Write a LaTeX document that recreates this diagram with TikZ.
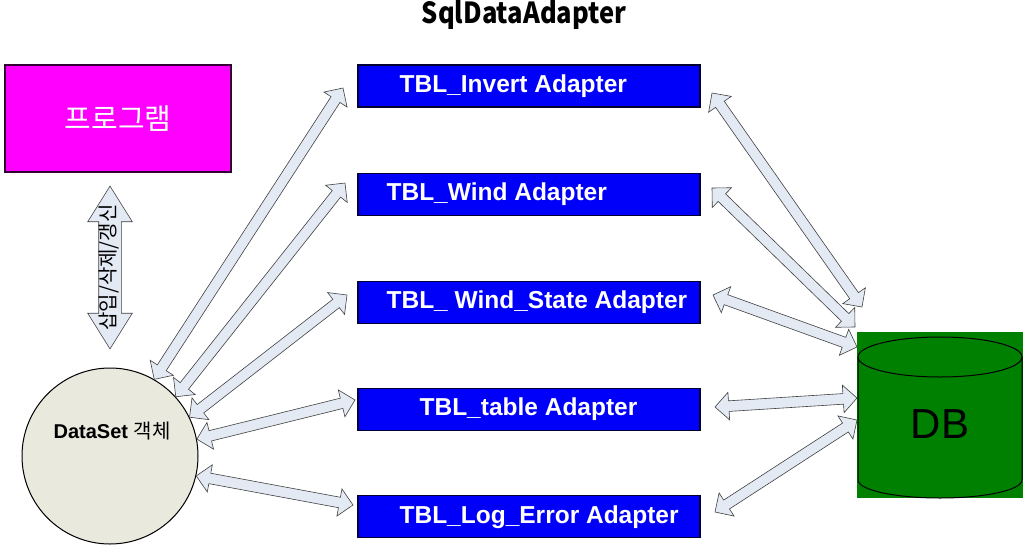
\documentclass[tikz,border=0pt]{standalone}
\usepackage{xcolor}
\usepackage{fontspec}
\setmainfont{Liberation Sans}
\newfontfamily\kr{Noto Sans CJK KR}
\usepackage{tikz}
\usetikzlibrary{positioning}
\usetikzlibrary{calc,shapes.arrows}

\definecolor{pgpink}{RGB}{255,0,255}
\definecolor{adblue}{RGB}{0,0,250}
\definecolor{dbgreen}{RGB}{0,128,0}
\definecolor{dsbeige}{RGB}{234,233,222}
\definecolor{arrfill}{RGB}{228,234,244}

\newcommand{\blockarrow}[2]{%
	\path let \p1=($(#2)-(#1)$), \n1={atan2(\y1,\x1)}, \n2={veclen(\x1,\y1)} in
		node[dblarrow, minimum height=\n2, rotate=\n1] at ($(#1)!0.5!(#2)$) {};}

\begin{document}
\begin{tikzpicture}[x=1pt,y=-1pt,
		adbox/.style={draw=black!80!blue, line width=1.2pt, fill=adblue, minimum width=342pt, minimum height=42pt, inner sep=0pt},
		adtext/.style={text=white, font=\bfseries\fontsize{24.5}{28}\selectfont, inner sep=0pt},
		dblarrow/.style={double arrow, draw=black!75, fill=arrfill, line width=0.6pt, inner xsep=0pt, inner ysep=5pt, minimum width=0pt, double arrow head extend=8.5pt, double arrow tip angle=90}]
			\useasboundingbox (0,0) rectangle (1027,551);
			
			\node (title) at (524,15) {\kr\bfseries\fontsize{29}{32}\selectfont\scalebox{0.88}[1]{SqlDataAdapter}};
			
			\node[draw=black!80!pgpink, line width=1.2pt, fill=pgpink, minimum width=226pt, minimum height=107pt] (pg) at (118,118.5) {\kr\color{white}\fontsize{29}{32}\selectfont 프로그램};
			\node[circle, draw, line width=1pt, fill=dsbeige, minimum size=176pt] (ds) at (110,456) {};
			\node (dstext) at (112,431) {\fontsize{20}{24}\selectfont\bfseries DataSet {\kr\mdseries 객체}};
			
			\node[adbox] (b1) at (529,86) {};
			\node[adbox] (b2) [below = 65pt of b1] {};
			\node[adbox] (b3) [below = 65pt of b2] {};
			\node[adbox] (b4) [below = 64pt of b3] {};
			\node[adbox] (b5) [below = 64pt of b4] {};
			
			\node[adtext, right = 42pt of b1.west] (t1) {TBL\_Invert Adapter};
			\node[adtext, right = 29pt of b2.west] (t2) {TBL\_Wind Adapter};
			\node[adtext, right = 29pt of b3.west] (t3) {TBL\_ Wind\_State Adapter};
			\node[adtext, right = 62pt of b4.west] (t4) {TBL\_table Adapter};
			\node[adtext, right = 42pt of b5.west] (t5) {TBL\_Log\_Error Adapter};
			
			\node[fill=dbgreen, minimum width=166pt, minimum height=166pt, inner sep=0pt] (db) at (940,415) {};
			\draw[line width=1pt] (858,357) -- (858,480) arc[start angle=180, end angle=360, x radius=82pt, y radius=18pt] -- (1022,357);
			\draw[line width=1pt] (940,357) ellipse [x radius=82pt, y radius=20pt];
			\node (dbtext) at (940,424) {\fontsize{42}{46}\selectfont DB};
			
			\node[double arrow, rotate=90, draw=black!75, fill=arrfill, line width=0.6pt, minimum height=161pt, inner xsep=0pt, inner ysep=3pt, text height=13pt, text depth=3pt, double arrow head extend=11pt, double arrow tip angle=64] (upd) at (110,267.5) {\kr\fontsize{20}{22}\selectfont 삽입/삭제/갱신};
			
			\coordinate (c1) at (ds.60);
			\coordinate (c2) at (ds.42);
			\coordinate (c3) at (ds.26);
			\coordinate (c4) at (ds.11);
			\coordinate (c5) at (ds.-13);
			\coordinate (l1) at (343,88);
			\coordinate (l2) at (345,183);
			\coordinate (l3) at (347,295);
			\coordinate (l4) at (355,400);
			\coordinate (l5) at (353,505);
			\coordinate (r1) at (712,93);
			\coordinate (r2) at (712,188);
			\coordinate (r3) at (713,295);
			\coordinate (r4) at (715,407);
			\coordinate (r5) at (715,512);
			\coordinate (d1) at (862,307);
			\coordinate (d2) at (855,327);
			\coordinate (d3) at (857,347);
			\coordinate (d4) at (857,398);
			\coordinate (d5) at (857,420);
			
			\foreach \i in {1,...,5} {
				\blockarrow{c\i}{l\i}
				\blockarrow{r\i}{d\i}
			}
			\end{tikzpicture}
\end{document}
